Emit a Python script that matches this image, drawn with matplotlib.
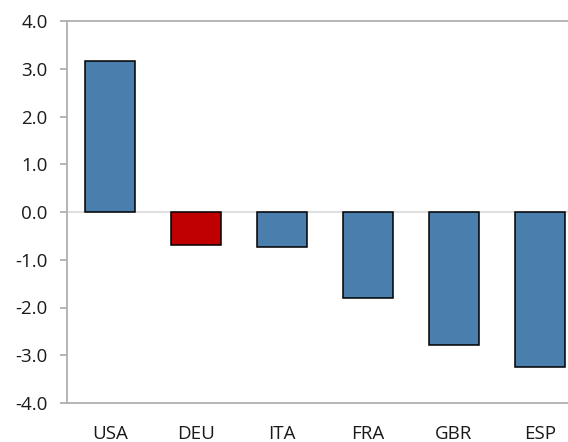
import matplotlib
matplotlib.use("Agg")
import matplotlib.pyplot as plt

# country values
countries = ["USA", "DEU", "ITA", "FRA", "GBR", "ESP"]
values = [3.16, -0.69, -0.73, -1.80, -2.79, -3.25]
bar_colors = ["#4A7EAD", "#C00000", "#4A7EAD", "#4A7EAD", "#4A7EAD", "#4A7EAD"]
y_ticks = [4.0, 3.0, 2.0, 1.0, 0.0, -1.0, -2.0, -3.0, -4.0]

plt.rcParams["font.family"] = ["Open Sans", "DejaVu Sans"]

fig = plt.figure(figsize=(5.68, 4.42), dpi=100)
ax = fig.add_axes([67 / 568, 1 - 403 / 442, 516 / 568, (403 - 21) / 442])

x = range(len(countries))
ax.bar(x, values, width=0.57, color=bar_colors, edgecolor="black", linewidth=1.1, zorder=3)
ax.axhline(0, color="#D9D9D9", linewidth=1.2, zorder=2)

ax.set_xlim(-0.5, len(countries) - 0.5)
ax.set_ylim(-4, 4)
ax.set_yticks(y_ticks)
ax.set_yticklabels([f"{v:.1f}" for v in y_ticks])
ax.set_xticks(list(x))
ax.set_xticklabels(countries)

for side in ["left", "bottom", "top"]:
    ax.spines[side].set_color("#B0B0B0")
    ax.spines[side].set_linewidth(1.3)
ax.spines["right"].set_visible(False)

ax.tick_params(axis="y", length=5, width=1.3, color="#B0B0B0", pad=9, labelsize=13.5, labelcolor="#1A1A1A")
ax.tick_params(axis="x", length=0, pad=16, labelsize=13.5, labelcolor="#1A1A1A")

fig.savefig("out.png", dpi=100)
